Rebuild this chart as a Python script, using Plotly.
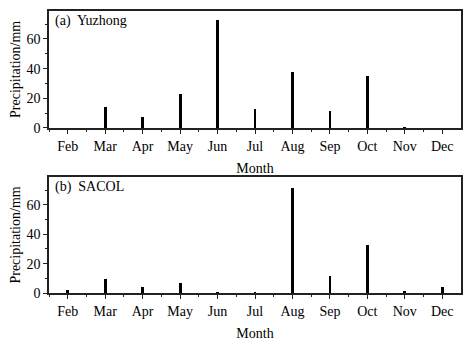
import plotly.graph_objects as go
from plotly.subplots import make_subplots

months = ["Feb", "Mar", "Apr", "May", "Jun", "Jul", "Aug", "Sep", "Oct", "Nov", "Dec"]
month_pos = [2, 3, 4, 5, 6, 7, 8, 9, 10, 11, 12]
yuzhong = [0, 14.5, 7.5, 23, 73, 13, 38, 11.5, 35.5, 1, 0]
sacol = [2.5, 10, 4, 7, 0.8, 0.3, 71.5, 11.5, 32.5, 1.3, 4.5]
panel_labels = ["(a)  Yuzhong", "(b)  SACOL"]

fig = make_subplots(rows=2, cols=1)
for i, vals in enumerate([yuzhong, sacol]):
    fig.add_trace(go.Bar(x=month_pos, y=vals, width=0.075, marker=dict(color="black", line=dict(width=0)),
                         showlegend=False), row=i + 1, col=1)

font = dict(family="Liberation Serif", size=14, color="black")
xdom = [49 / 474, 461 / 474]
ydoms = [[1 - 131 / 347, 1 - 11 / 347], [1 - 300 / 347, 1 - 181 / 347]]
for i in range(2):
    xa = "xaxis" if i == 0 else "xaxis2"
    ya = "yaxis" if i == 0 else "yaxis2"
    fig.layout[xa].update(domain=xdom, range=[1.5, 12.5], tickvals=month_pos, ticktext=months,
                          ticks="outside", ticklen=4, tickcolor="#222", showline=True, linecolor="#222",
                          linewidth=1.5, mirror=True, showgrid=False, zeroline=False,
                          minor=dict(tickvals=[p + 0.5 for p in month_pos[:-1]] + [1.5], ticks="outside",
                                     ticklen=2, tickcolor="#222"),
                          tickfont=font, title=dict(text="Month", font=font, standoff=11))
    fig.layout[ya].update(domain=ydoms[i], range=[0, 79], tickvals=[0, 20, 40, 60], ticks="outside",
                          ticklen=4, tickcolor="#222", showline=True, linecolor="#222", linewidth=1.5,
                          mirror=True, showgrid=False, zeroline=False,
                          minor=dict(tickvals=[10, 30, 50, 70], ticks="outside", ticklen=2, tickcolor="#222"),
                          tickfont=font, title=dict(text="Precipitation/mm", font=font, standoff=3))
    fig.add_annotation(text=panel_labels[i], xref=("x domain" if i == 0 else "x2 domain"),
                       yref=("y domain" if i == 0 else "y2 domain"), x=0.01, y=0.995, xanchor="left",
                       yanchor="top", showarrow=False, font=font)

fig.update_layout(width=474, height=347, margin=dict(l=0, r=0, t=0, b=0), plot_bgcolor="white",
                  paper_bgcolor="white", bargap=0)
fig.write_html("out.html")
